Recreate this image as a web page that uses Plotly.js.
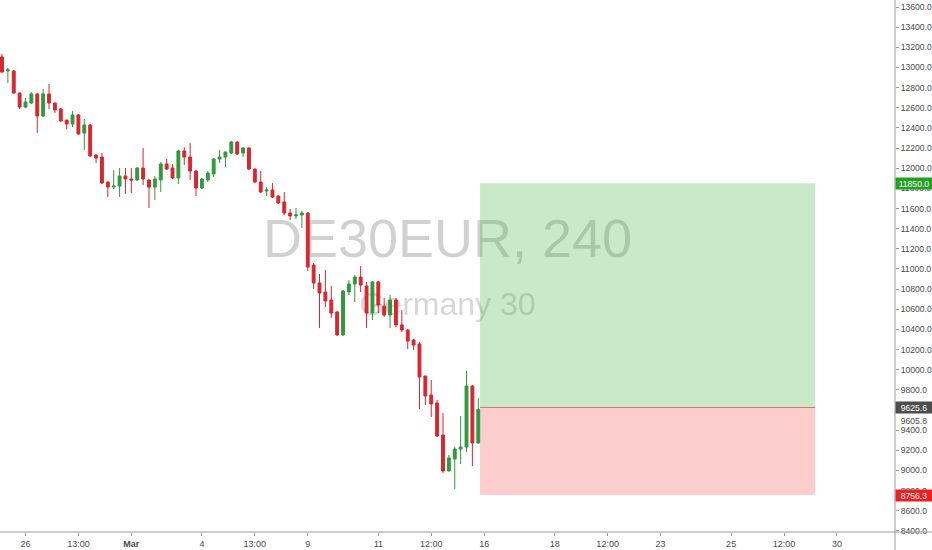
<!DOCTYPE html>
<html>
<head>
<meta charset="utf-8">
<script src="https://cdn.plot.ly/plotly-3.0.1.min.js"></script>
<style>html,body{margin:0;padding:0;background:#fff;}#chart{width:932px;height:550px;}</style>
</head>
<body>
<div id="chart"></div>
<script>
// 4H candles, DE30EUR (Feb 25 – Mar 13), bar index 0 = first bar of Feb 26
const opens  = [13104,12965,12965,12746,12607,12647,12737,12518,12737,12647,12588,12478,12439,12528,12349,12429,12131,12111,11863,11813,11823,11923,11893,11883,12002,11883,11813,11883,12042,12002,11903,12171,12111,11972,11804,11883,11943,12091,12111,12151,12260,12151,12201,11992,11863,11774,11784,11724,11665,11555,11526,11536,11555,11039,10861,10771,10692,10573,10345,10771,10851,10920,10831,10563,10871,10632,10543,10692,10444,10394,10295,10255,9938,9749,9670,9352,8995,9114,9213,9233,9838,9273];
const highs  = [13133,12995,12975,12750,12697,12756,12745,12786,12836,12650,12598,12480,12568,12538,12488,12439,12135,12151,11870,11982,12002,12002,12002,12012,12201,11890,11923,12062,12091,12042,12181,12210,12250,11980,11903,11972,12101,12181,12165,12270,12270,12210,12210,11995,11972,11813,11853,11730,11764,11595,11605,11575,11565,11059,10950,10990,10831,10583,10791,10890,10940,11029,10871,10881,10881,10712,10742,10712,10593,10404,10305,10275,9938,9898,9699,9570,9154,9233,9541,9987,9848,9719];
const lows   = [12945,12846,12740,12588,12598,12637,12349,12508,12588,12548,12460,12389,12409,12330,12181,12111,12052,11843,11714,11794,11714,11744,11754,11873,11833,11605,11684,11764,11982,11893,11843,12032,11883,11724,11794,11863,11913,12052,12012,12141,12131,12111,11982,11853,11754,11724,11704,11645,11536,11486,11496,11407,10980,10801,10414,10622,10513,10335,10335,10742,10672,10771,10414,10493,10563,10523,10414,10424,10374,10206,10196,9610,9650,9531,9332,8975,8990,8816,9064,9183,9044,9265];
const closes = [12955,12975,12746,12607,12657,12737,12518,12737,12647,12578,12469,12439,12528,12340,12429,12121,12101,11853,11813,11823,11923,11893,11883,12002,11893,11813,11893,12042,11992,11903,12171,12111,11972,11804,11893,11952,12091,12111,12161,12260,12141,12201,11992,11863,11764,11784,11714,11655,11555,11526,11536,11555,11019,10861,10761,10682,10563,10345,10781,10851,10920,10841,10563,10871,10642,10543,10692,10444,10394,10285,10245,9928,9739,9660,9342,8995,9124,9213,9233,9838,9273,9605.8];
const firstBarIndex = -4;

// time axis labels (bar index -> label)
const tickIdx  = [0, 9, 18, 30, 39, 48, 60, 69, 78, 90, 99, 108, 120, 129, 138];
const tickText = ['26','13:00','<b>Mar</b>','4','13:00','9','11','12:00','16','18','12:00','23','25','12:00','30'];

// long position tool
const entryPrice  = 9625.6;
const targetPrice = 11850.0;
const stopPrice   = 8756.3;
const lastPrice   = 9605.8;
const posStart = 77.3, posEnd = 134.3;

const xs = opens.map((_, i) => i + firstBarIndex);

const FONT = '"Liberation Sans", Arial, sans-serif';
const up = '#2f9a3c', down = '#d9262f';

const trace = {
  type: 'candlestick',
  x: xs, open: opens, high: highs, low: lows, close: closes,
  increasing: {line: {color: up, width: 1}, fillcolor: up},
  decreasing: {line: {color: down, width: 1}, fillcolor: down},
  whiskerwidth: 0,
  hoverinfo: 'skip'
};

const axisCol = '#9a9a9a';
const plotW = 895, plotH = 532;
const tf = {family: FONT, size: 8.6, color: '#4a4a4a'};

const layout = {
  width: 932, height: 550,
  margin: {l: 0, r: 37, t: 0, b: 18},
  paper_bgcolor: '#ffffff', plot_bgcolor: '#ffffff',
  showlegend: false,
  xaxis: {
    range: [-4.337, 147.87],
    tickmode: 'array', tickvals: tickIdx, ticktext: tickText,
    showgrid: false, zeroline: false, showline: false,
    ticks: 'outside', ticklen: 3, tickcolor: axisCol,
    tickfont: {family: FONT, size: 9, color: '#4a4a4a'},
    rangeslider: {visible: false}, fixedrange: true
  },
  yaxis: {
    side: 'right',
    range: [8389.4, 13669.5],
    tick0: 0, dtick: 200, tickformat: '.1f',
    showgrid: false, zeroline: false, showline: false,
    ticks: 'outside', ticklen: 3, tickcolor: axisCol,
    tickfont: tf,
    fixedrange: true
  },
  shapes: [
    // watermark
    {type: 'rect', xref: 'paper', yref: 'paper', x0: 0.1, x1: 0.9, y0: 0.512, y1: 0.612,
     fillcolor: 'rgba(0,0,0,0)', line: {width: 0}, layer: 'below',
     label: {text: 'DE30EUR, 240', textposition: 'middle center',
             font: {family: '"Liberation Sans", Arial, sans-serif', size: 54, color: 'rgba(0,0,0,0.18)'}}},
    {type: 'rect', xref: 'paper', yref: 'paper', x0: 0.1, x1: 0.9, y0: 0.40, y1: 0.47,
     fillcolor: 'rgba(0,0,0,0)', line: {width: 0}, layer: 'below',
     label: {text: 'Germany 30', textposition: 'middle center',
             font: {family: '"Liberation Sans", Arial, sans-serif', size: 32, color: 'rgba(0,0,0,0.18)'}}},
    // position tool
    {type: 'rect', xref: 'x', yref: 'y', x0: posStart, x1: posEnd, y0: entryPrice, y1: targetPrice,
     fillcolor: 'rgba(60,180,60,0.28)', line: {width: 0}, layer: 'above'},
    {type: 'rect', xref: 'x', yref: 'y', x0: posStart, x1: posEnd, y0: stopPrice, y1: entryPrice,
     fillcolor: 'rgba(245,60,60,0.26)', line: {width: 0}, layer: 'above'},
    {type: 'line', xref: 'x', yref: 'y', x0: posStart, x1: posEnd, y0: entryPrice, y1: entryPrice,
     line: {color: 'rgba(215,90,90,0.8)', width: 1}, layer: 'above'},
    // axis lines (full width / height as in the reference)
    {type: 'line', xref: 'paper', yref: 'paper', x0: 0, x1: 932 / plotW, y0: 0, y1: 0,
     line: {color: axisCol, width: 1}},
    {type: 'line', xref: 'paper', yref: 'paper', x0: 1, x1: 1, y0: -18 / plotH, y1: 1,
     line: {color: axisCol, width: 1}}
  ],
  annotations: [
    {xref: 'paper', yref: 'y', x: 1, y: targetPrice, xanchor: 'left', yanchor: 'middle', showarrow: false,
     text: targetPrice.toFixed(1), bgcolor: '#1fa024', font: {family: FONT, size: 8.6, color: '#ffffff'},
     width: 36, height: 11, align: 'center', borderpad: 0, xshift: 0},
    {xref: 'paper', yref: 'y', x: 1, y: entryPrice, xanchor: 'left', yanchor: 'middle', showarrow: false,
     text: entryPrice.toFixed(1), bgcolor: '#4d4d4d', font: {family: FONT, size: 8.6, color: '#ffffff'},
     width: 36, height: 11, align: 'center', borderpad: 0},
    {xref: 'paper', yref: 'y', x: 1, y: lastPrice, xanchor: 'left', yanchor: 'middle', showarrow: false,
     text: lastPrice.toFixed(1), font: {family: FONT, size: 8.6, color: '#4a4a4a'},
     width: 36, height: 11, align: 'center', borderpad: 0, yshift: -11},
    {xref: 'paper', yref: 'y', x: 1, y: stopPrice, xanchor: 'left', yanchor: 'middle', showarrow: false,
     text: stopPrice.toFixed(1), bgcolor: '#f01e1e', font: {family: FONT, size: 8.6, color: '#ffffff'},
     width: 36, height: 11, align: 'center', borderpad: 0}
  ]
};

Plotly.newPlot('chart', [trace], layout, {displayModeBar: false, staticPlot: true});
</script>
</body>
</html>
